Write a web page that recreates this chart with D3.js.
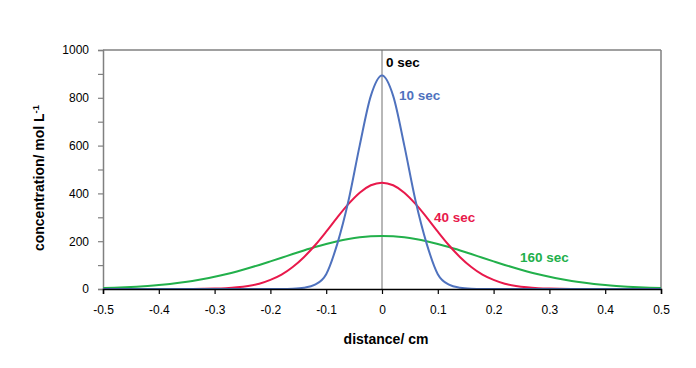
<!DOCTYPE html>
<html><head><meta charset="utf-8">
<script src="https://cdn.jsdelivr.net/npm/d3@7"></script>
<style>body{margin:0;background:#fff;}svg{display:block;font-family:"Liberation Sans",Arial,sans-serif;}</style>
</head><body>
<svg id="c" width="696" height="368"></svg>
<script>
const xs = [-0.5,-0.48,-0.46,-0.44,-0.42,-0.4,-0.38,-0.36,-0.34,-0.32,-0.3,-0.28,-0.26,-0.24,-0.22,-0.2,-0.18,-0.16,-0.14,-0.12,-0.1,-0.08,-0.06,-0.04,-0.02,0,
  0.02,0.04,0.06,0.08,0.1,0.12,0.14,0.16,0.18,0.2,0.22,0.24,0.26,0.28,0.3,0.32,0.34,0.36,0.38,0.4,0.42,0.44,0.46,0.48,0.5];
const sec10 = [0,0,0,0,0,0,0,0,0,0,0,0,0,0,0,0,0,1,5,18,62,190,370,600,808,893,
  808,600,370,190,62,18,5,1,0,0,0,0,0,0,0,0,0,0,0,0,0,0,0,0,0];
const sec40 = [0,0,0,0,0,0,0,0,0.3,0.8,1.7,3.5,6.9,12.7,22,38,60,92,133,183,240,300,356,403,434,445,
  434,403,356,300,240,183,133,92,60,38,22,12.7,6.9,3.5,1.7,0.8,0.3,0,0,0,0,0,0,0,0];
const sec160 = [3.7,5.2,7.0,9.4,12.5,16.3,21.0,26.8,33.6,41.7,51.1,61.7,73.6,86.7,100.7,115.6,130.8,146.2,161.2,175.5,188.5,200,209.3,216.3,220.6,222,
  220.6,216.3,209.3,200,188.5,175.5,161.2,146.2,130.8,115.6,100.7,86.7,73.6,61.7,51.1,41.7,33.6,26.8,21.0,16.3,12.5,9.4,7.0,5.2,3.7];
const sec0X = [0,0];
const sec0Y = [0,1000];
const xTicks = [-0.5,-0.4,-0.3,-0.2,-0.1,0,0.1,0.2,0.3,0.4,0.5];
const xTickLabels = ["-0.5","-0.4","-0.3","-0.2","-0.1","0","0.1","0.2","0.3","0.4","0.5"];
const yTicks = [0,200,400,600,800,1000];
const yMinor = [100,300,500,700,900];
const labels = ["0 sec","10 sec","40 sec","160 sec"];
const colors = ["#000000","#4f72be","#e8194b","#22b04b"];

const svg = d3.select("#c");
const L=103, R=661, T=50, B=289;
const x = d3.scaleLinear().domain([-0.5,0.5]).range([L,R]);
const y = d3.scaleLinear().domain([0,1000]).range([B,T]);
const FONT = "Liberation Sans, Arial, sans-serif";

// frame top/right
svg.append("line").attr("x1",L).attr("x2",R).attr("y1",T).attr("y2",T).attr("stroke","#808080").attr("stroke-width",1.5);
svg.append("line").attr("x1",R).attr("x2",R).attr("y1",T).attr("y2",B).attr("stroke","#808080").attr("stroke-width",1.5);

// y axis
const ya = svg.append("g").attr("transform",`translate(${L},0)`)
  .call(d3.axisLeft(y).tickValues(yTicks).tickSize(5).tickPadding(9).tickFormat(d3.format("d")));
ya.select(".domain").attr("stroke","#808080").attr("stroke-width",1.5);
ya.selectAll(".tick line").attr("stroke","#808080").attr("stroke-width",1.2);
ya.selectAll("text").attr("font-size",12).attr("fill","#000").attr("font-family",FONT);
const ym = svg.append("g").attr("transform",`translate(${L},0)`)
  .call(d3.axisLeft(y).tickValues(yMinor).tickSize(5).tickFormat(""));
ym.select(".domain").remove();
ym.selectAll(".tick line").attr("stroke","#808080").attr("stroke-width",1.2);

// zero-time line
svg.append("path").datum(sec0X.map((v,i)=>[v,sec0Y[i]]))
  .attr("d",d3.line().x(d=>x(d[0])).y(d=>y(d[1])))
  .attr("stroke","#707070").attr("stroke-width",1).attr("fill","none");

const line = d3.line().x((d,i)=>x(xs[i])).y(d=>y(d)).curve(d3.curveMonotoneX);
[[sec160,colors[3]],[sec40,colors[2]],[sec10,colors[1]]].forEach(([s,c])=>{
  svg.append("path").datum(s).attr("d",line).attr("fill","none").attr("stroke",c).attr("stroke-width",2);
});

// x axis
const xa = svg.append("g").attr("transform",`translate(0,${B})`)
  .call(d3.axisBottom(x).tickValues(xTicks).tickSize(5).tickPadding(11).tickFormat((d,i)=>xTickLabels[i]));
xa.select(".domain").attr("stroke","#000").attr("stroke-width",1.5);
xa.selectAll(".tick line").attr("stroke","#000").attr("stroke-width",1.2);
xa.selectAll("text").attr("font-size",12).attr("fill","#000").attr("font-family",FONT);

// series labels
const lab = [[labels[0],386,67,colors[0]],[labels[1],399,100,colors[1]],[labels[2],434,222,colors[2]],[labels[3],520,262,colors[3]]];
lab.forEach(([t,lx,ly,c])=>{
  svg.append("text").attr("x",lx).attr("y",ly).attr("fill",c).attr("font-size",13.5).attr("font-weight","bold").text(t);
});

// axis titles
svg.append("text").attr("x",386).attr("y",344).attr("text-anchor","middle").attr("font-size",14).attr("font-weight","bold").text("distance/ cm");
const yt = svg.append("text").attr("transform","translate(44,178) rotate(-90)").attr("text-anchor","middle").attr("font-size",14).attr("font-weight","bold");
yt.append("tspan").text("concentration/ mol L");
yt.append("tspan").attr("dy",-5).attr("font-size",9.5).text("-1");
</script>
</body></html>
